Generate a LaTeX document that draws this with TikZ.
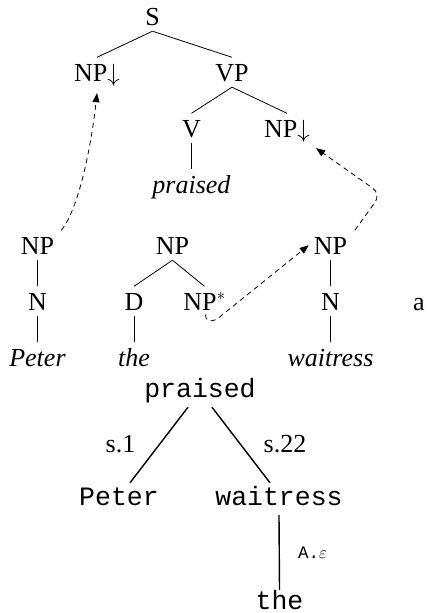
\documentclass[tikz,border=0pt]{standalone}
\usepackage{fontspec}
\setmainfont{Liberation Serif}
\setmonofont{Liberation Mono}
\usetikzlibrary{arrows.meta}
\begin{document}
\begin{tikzpicture}[x=1pt,y=-1pt,
  tn/.style={anchor=base, inner xsep=1pt, inner ysep=6pt, text height=17.5pt, text depth=0pt, font=\fontsize{26}{30}\selectfont},
  mn/.style={anchor=base, inner xsep=1pt, inner ysep=5pt, text height=17pt, text depth=5pt, font=\fontsize{26.5}{30}\selectfont\ttfamily},
  lab/.style={anchor=base, inner sep=0pt, font=\fontsize{26}{30}\selectfont},
  smalllab/.style={anchor=base, inner sep=0pt, font=\fontsize{17.5}{20}\selectfont\ttfamily},
  tl/.style={line width=0.8pt},
  ml/.style={line width=1.4pt},
  dl/.style={line width=0.8pt, dash pattern=on 5pt off 4pt, -{Triangle[length=9pt,width=7pt]}}]
\useasboundingbox (0,0) rectangle (427,613);
% elementary tree: praised
\node[tn] (S) at (152.5,25) {S};
\node[tn] (NPl) at (97,81) {NP$\downarrow$};
\node[tn] (VP) at (232,81) {VP};
\node[tn] (V) at (191.5,137) {V};
\node[tn] (NPr) at (287,137) {NP$\downarrow$};
\node[tn] (praisedi) at (191.5,193) {\textit{praised}};
\draw[tl] (S.south) -- (NPl.north);
\draw[tl] (S.south) -- (VP.north);
\draw[tl] (VP.south) -- (V.north);
\draw[tl] (VP.south) -- (NPr.north);
\draw[tl] (V.south) -- (praisedi.north);
% Peter
\node[tn] (NPp) at (37.5,254) {NP};
\node[tn] (Np) at (37.5,310) {N};
\node[tn] (Peteri) at (37.5,366) {\textit{Peter}};
\draw[tl] (NPp.south) -- (Np.north);
\draw[tl] (Np.south) -- (Peteri.north);
% the
\node[tn] (NPm) at (172.5,254) {NP};
\node[tn] (D) at (134,310) {D};
\node[tn] (NPs) at (204.5,310) {NP$^*$};
\node[tn] (thei) at (134,366) {\textit{the}};
\draw[tl] (NPm.south) -- (D.north);
\draw[tl] (NPm.south) -- (NPs.north);
\draw[tl] (D.south) -- (thei.north);
% waitress
\node[tn] (NPw) at (330.5,254) {NP};
\node[tn] (Nw) at (330.5,310) {N};
\node[tn] (waitressi) at (330.5,366) {\textit{waitress}};
\draw[tl] (NPw.south) -- (Nw.north);
\draw[tl] (Nw.south) -- (waitressi.north);
% a
\node[tn] (a) at (419,310) {a};
% dashed substitution / adjunction arrows
\draw[dl] ([xshift=6pt]NPp.north east) .. controls (80,207) and (92,140) .. ([yshift=-6pt]NPl.south);
\coordinate (corner) at (381,194);
\draw[dl, rounded corners=10pt] ([xshift=6.5pt]NPw.north east) -- (corner) -- ([xshift=5pt,yshift=-5pt]NPr.south east);
\draw[dl] ([xshift=1pt,yshift=1.5pt]NPs.south) .. controls (206,323) and (213,322) .. (219,317.5) -- ([xshift=-4pt]NPw.west);
% derivation tree
\node[mn] (pr) at (200,397) {praised};
\node[mn] (Pm) at (119,505) {Peter};
\node[mn] (wm) at (279,505) {waitress};
\node[mn] (tm) at (279.5,609) {the};
\draw[ml] ([xshift=-12pt]pr.south) -- ([xshift=11pt]Pm.north);
\draw[ml] ([xshift=12pt]pr.south) -- ([xshift=-9pt]wm.north);
\draw[ml] (wm.south) -- ([yshift=-3pt]tm.north);
\node[lab] (s1) at (120.5,452) {s.1};
\node[lab] (s22) at (285,452) {s.22};
\node[smalllab] (Ae) at (312.5,558) {A.$\varepsilon$};
\end{tikzpicture}
\end{document}
